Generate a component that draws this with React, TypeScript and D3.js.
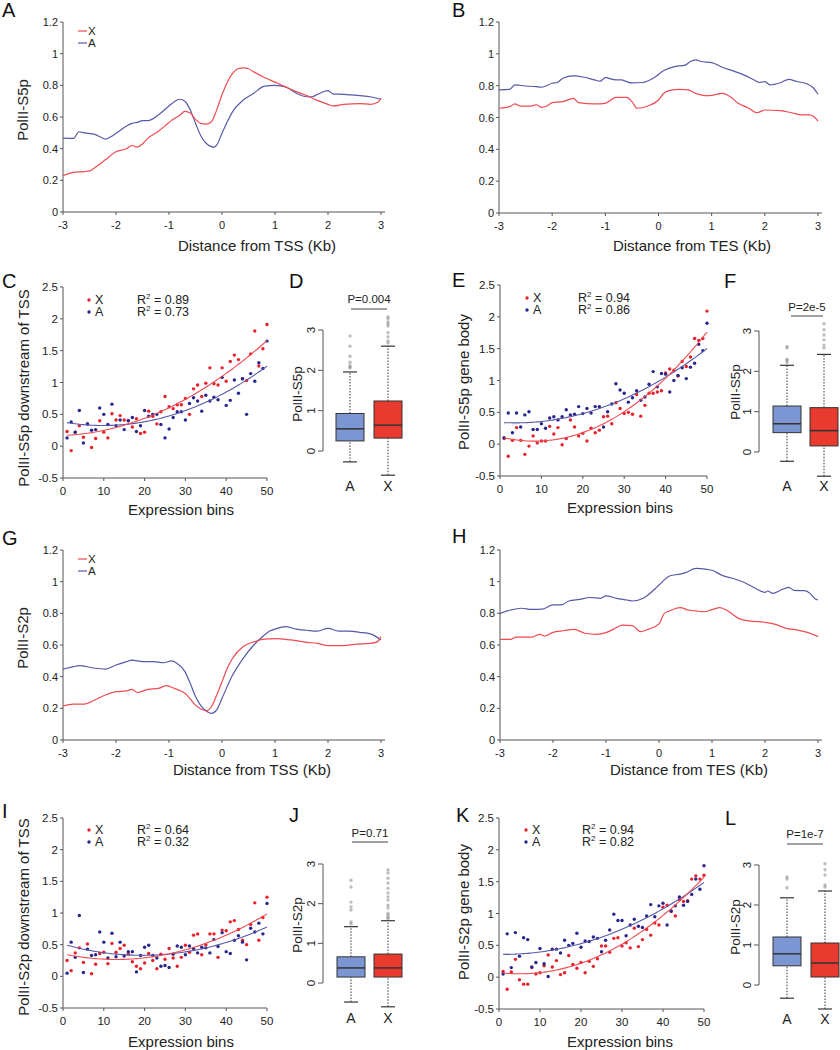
import React from 'react';
import * as d3 from 'd3';

const FONT = '"Liberation Sans", Arial, Helvetica, sans-serif';
const RED_LINE = '#ef4b52';
const BLUE_LINE = '#5858a8';
const RED_DOT = '#e8202a';
const BLUE_DOT = '#26268c';
const BOX_A = '#7b96d2';
const BOX_X = '#e83a2e';
const AXIS = '#555';
const TXT = '#222';

// ---------- tick labels ----------
const LINE_TICKS_Y = [0, 0.2, 0.4, 0.6, 0.8, 1, 1.2];
const LINE_TICKS_X = [-3, -2, -1, 0, 1, 2, 3];
const SCAT_TICKS_Y = [-0.5, 0, 0.5, 1, 1.5, 2, 2.5];
const SCAT_TICKS_X = [0, 10, 20, 30, 40, 50];
const BOX_TICKS = [0, 1, 2, 3];
const BOX_CATS = ['A', 'X'];

// ---------- Panel A (PolII-S5p around TSS) ----------
const A_X: [number, number][] = [[-3,0.23],[-2.8,0.25],[-2.6,0.255],[-2.5,0.26],[-2.4,0.28],[-2.2,0.33],[-2.0,0.38],[-1.8,0.40],[-1.7,0.42],[-1.6,0.41],[-1.5,0.43],[-1.4,0.465],[-1.2,0.51],[-1.0,0.565],[-0.9,0.59],[-0.8,0.61],[-0.7,0.635],[-0.6,0.625],[-0.5,0.585],[-0.4,0.56],[-0.3,0.555],[-0.2,0.57],[-0.1,0.645],[0,0.74],[0.1,0.82],[0.2,0.875],[0.3,0.905],[0.4,0.91],[0.5,0.905],[0.6,0.885],[0.8,0.85],[1.0,0.82],[1.2,0.79],[1.4,0.76],[1.6,0.735],[1.8,0.705],[2.0,0.68],[2.1,0.67],[2.3,0.68],[2.6,0.685],[2.8,0.68],[2.95,0.695],[3.0,0.72]];
const A_A: [number, number][] = [[-3,0.467],[-2.8,0.465],[-2.7,0.507],[-2.6,0.5],[-2.4,0.49],[-2.3,0.475],[-2.2,0.46],[-2.1,0.475],[-2.0,0.497],[-1.8,0.543],[-1.7,0.56],[-1.6,0.566],[-1.5,0.577],[-1.4,0.577],[-1.2,0.613],[-1.0,0.67],[-0.9,0.697],[-0.8,0.712],[-0.7,0.70],[-0.6,0.645],[-0.5,0.56],[-0.4,0.482],[-0.3,0.434],[-0.2,0.413],[-0.15,0.41],[-0.1,0.423],[0,0.497],[0.1,0.57],[0.2,0.634],[0.4,0.707],[0.6,0.75],[0.8,0.795],[1.0,0.8],[1.2,0.79],[1.4,0.75],[1.6,0.728],[1.7,0.728],[1.8,0.743],[2.0,0.766],[2.1,0.745],[2.3,0.743],[2.6,0.735],[2.8,0.728],[3.0,0.712]];

// ---------- Panel B (PolII-S5p around TES) ----------
const B_A: [number, number][] = [[-3,0.773],[-2.8,0.777],[-2.7,0.805],[-2.5,0.798],[-2.3,0.794],[-2.2,0.79],[-2.0,0.815],[-1.9,0.82],[-1.8,0.847],[-1.6,0.861],[-1.4,0.853],[-1.2,0.836],[-1.1,0.828],[-1.0,0.85],[-0.8,0.836],[-0.7,0.836],[-0.6,0.825],[-0.5,0.817],[-0.3,0.82],[-0.1,0.847],[0.1,0.895],[0.3,0.92],[0.5,0.929],[0.6,0.952],[0.7,0.962],[0.8,0.952],[1.0,0.945],[1.2,0.916],[1.4,0.893],[1.6,0.868],[1.8,0.836],[1.9,0.82],[2.0,0.826],[2.1,0.805],[2.3,0.82],[2.45,0.84],[2.6,0.826],[2.8,0.81],[2.9,0.79],[3.0,0.746]];
const B_X: [number, number][] = [[-3,0.658],[-2.8,0.668],[-2.7,0.685],[-2.6,0.672],[-2.4,0.672],[-2.3,0.68],[-2.2,0.664],[-2.1,0.672],[-2.0,0.693],[-1.8,0.70],[-1.6,0.72],[-1.5,0.693],[-1.2,0.685],[-1.0,0.689],[-0.8,0.727],[-0.6,0.727],[-0.5,0.70],[-0.4,0.658],[-0.2,0.672],[0,0.71],[0.1,0.752],[0.2,0.769],[0.4,0.777],[0.55,0.773],[0.7,0.752],[0.9,0.737],[1.0,0.739],[1.2,0.752],[1.35,0.731],[1.5,0.689],[1.7,0.658],[1.85,0.63],[2.0,0.647],[2.3,0.643],[2.5,0.63],[2.7,0.616],[2.85,0.616],[3.0,0.578]];

// ---------- Panel G (PolII-S2p around TSS) ----------
const G_X: [number, number][] = [[-3,0.215],[-2.8,0.227],[-2.6,0.227],[-2.4,0.253],[-2.2,0.284],[-2.0,0.305],[-1.8,0.31],[-1.7,0.32],[-1.6,0.30],[-1.4,0.32],[-1.2,0.326],[-1.05,0.343],[-0.9,0.326],[-0.7,0.295],[-0.6,0.26],[-0.5,0.22],[-0.4,0.196],[-0.3,0.185],[-0.2,0.21],[-0.1,0.284],[0,0.368],[0.1,0.453],[0.2,0.516],[0.4,0.59],[0.6,0.62],[0.8,0.637],[1.0,0.64],[1.3,0.632],[1.6,0.617],[1.8,0.61],[2.0,0.596],[2.3,0.596],[2.5,0.604],[2.8,0.61],[2.93,0.62],[3.0,0.653]];
const G_A: [number, number][] = [[-3,0.448],[-2.8,0.463],[-2.7,0.47],[-2.4,0.453],[-2.2,0.448],[-2.0,0.474],[-1.8,0.495],[-1.7,0.505],[-1.5,0.495],[-1.3,0.495],[-1.1,0.488],[-0.95,0.50],[-0.85,0.484],[-0.7,0.432],[-0.6,0.358],[-0.5,0.274],[-0.4,0.217],[-0.3,0.183],[-0.2,0.168],[-0.1,0.19],[0,0.263],[0.2,0.41],[0.4,0.516],[0.6,0.6],[0.8,0.663],[0.9,0.688],[1.0,0.70],[1.2,0.716],[1.4,0.70],[1.6,0.693],[1.8,0.688],[2.0,0.705],[2.2,0.688],[2.4,0.688],[2.6,0.68],[2.8,0.67],[3.0,0.632]];

// ---------- Panel H (PolII-S2p around TES) ----------
const H_A: [number, number][] = [[-3,0.80],[-2.8,0.821],[-2.6,0.832],[-2.4,0.825],[-2.2,0.827],[-2.0,0.853],[-1.85,0.853],[-1.7,0.878],[-1.5,0.888],[-1.3,0.90],[-1.1,0.895],[-1.0,0.91],[-0.8,0.895],[-0.6,0.884],[-0.5,0.878],[-0.3,0.895],[-0.1,0.947],[0,0.979],[0.2,1.036],[0.4,1.048],[0.5,1.057],[0.7,1.084],[0.9,1.078],[1.0,1.072],[1.2,1.038],[1.4,1.02],[1.6,0.996],[1.8,0.962],[2.0,0.933],[2.05,0.941],[2.15,0.926],[2.3,0.947],[2.45,0.964],[2.55,0.945],[2.75,0.943],[2.85,0.926],[2.95,0.89],[3.0,0.884]];
const H_X: [number, number][] = [[-3,0.636],[-2.8,0.636],[-2.7,0.65],[-2.4,0.65],[-2.25,0.667],[-2.15,0.657],[-2.0,0.68],[-1.8,0.69],[-1.6,0.699],[-1.4,0.674],[-1.2,0.667],[-1.0,0.678],[-0.8,0.71],[-0.7,0.726],[-0.5,0.722],[-0.35,0.684],[-0.2,0.70],[0,0.733],[0.1,0.80],[0.2,0.815],[0.4,0.836],[0.55,0.821],[0.7,0.815],[0.85,0.81],[1.0,0.823],[1.15,0.836],[1.3,0.815],[1.5,0.768],[1.7,0.752],[2.0,0.743],[2.2,0.73],[2.4,0.705],[2.6,0.695],[2.8,0.68],[3.0,0.653]];

// ---------- Scatter panels: bins 1..50 ----------
const BINS = Array.from({ length: 50 }, (_, i) => i + 1);
const C_X = [0.23,-0.07,0.22,0.32,0.14,0.35,-0.02,0.12,0.4,0.22,0.13,0.51,0.41,0.48,0.41,0.4,0.3,0.43,0.2,0.22,0.55,0.47,0.35,0.54,0.78,0.62,0.59,0.65,0.65,0.75,0.5,0.9,0.96,0.78,0.99,1.23,0.98,0.96,1.23,1.02,1.33,1.43,1.36,1.06,1.03,1.45,1.81,1.26,1.53,1.91];
const C_A = [0.13,0.38,0.22,0.56,0.05,0.35,0.25,0.26,0.6,0.5,0.34,0.66,0.32,0.41,0.26,0.4,0.45,0.23,0.32,0.56,0.47,0.5,0.5,0.34,0.13,0.27,0.45,0.54,0.54,0.41,0.67,0.76,0.71,0.55,0.8,0.71,0.77,0.73,1.08,0.64,0.72,1.04,0.83,1.06,0.5,1.14,1.02,1.31,1.22,1.65];
const E_X = [0.09,-0.19,0.06,0.26,0.06,-0.16,-0.03,0.13,0.02,0.05,0.05,0.28,0.16,0.26,-0.01,0.09,0.38,0.27,0.13,0.17,0.05,0.25,0.18,0.22,0.43,0.44,0.32,0.65,0.56,0.48,0.5,0.47,0.78,0.44,0.61,0.8,0.8,0.82,0.84,1.12,1.18,1.16,1.07,1.3,1.22,1.37,1.66,1.63,1.66,2.09];
const E_A = [0.1,0.49,0.18,0.49,0.27,0.46,0.51,0.23,0.23,0.32,0.25,0.41,0.43,0.38,0.43,0.54,0.46,0.47,0.59,0.48,0.56,0.49,0.59,0.59,0.27,0.51,0.63,0.95,0.85,0.8,0.66,0.73,0.84,0.69,0.74,0.94,1.14,0.9,1.11,1.1,0.82,1.0,1.08,1.2,1.03,1.21,1.27,1.57,1.47,1.9];
const I_X = [0.25,0.09,0.37,0.45,0.22,0.51,0.04,0.19,0.36,0.38,0.2,0.52,0.38,0.44,0.49,0.35,0.23,0.16,0.12,0.21,0.36,0.25,0.12,0.35,0.27,0.44,0.29,0.16,0.3,0.49,0.38,0.65,0.67,0.34,0.5,0.67,0.67,0.3,0.73,0.72,0.86,0.88,0.74,0.57,0.5,0.82,1.16,0.57,0.93,1.25];
const I_A = [0.05,0.54,0.3,0.96,0.06,0.43,0.33,0.34,0.7,0.54,0.29,0.68,0.31,0.54,0.32,0.39,0.39,0.07,0.33,0.46,0.49,0.33,0.29,0.16,0.17,0.14,0.35,0.48,0.46,0.34,0.48,0.44,0.37,0.46,0.45,0.37,0.58,0.47,0.69,0.39,0.36,0.57,0.64,0.54,0.26,0.76,0.7,0.84,0.67,1.15];
const K_X = [0.09,-0.19,0.08,0.28,-0.04,-0.11,-0.11,0.15,0.05,0.07,0.18,0.35,0.16,0.26,0.04,0.07,0.34,0.2,0.14,0.23,0.07,0.25,0.17,0.29,0.49,0.49,0.39,0.61,0.62,0.49,0.54,0.46,0.77,0.48,0.59,0.75,0.66,0.85,0.82,1.1,1.13,1.03,0.96,1.22,1.19,1.2,1.54,1.59,1.54,1.6];
const K_A = [0.05,0.68,0.15,0.7,0.33,0.62,0.59,0.16,0.23,0.45,0.21,0.01,0.44,0.44,0.38,0.58,0.5,0.53,0.69,0.47,0.57,0.56,0.63,0.61,0.4,0.58,0.74,0.99,0.89,0.89,0.65,0.82,0.91,0.8,0.78,0.96,1.14,0.95,1.12,1.16,0.82,1.04,1.12,1.26,1.13,1.19,1.3,1.54,1.38,1.75];

// ---------- Box plots: [lowWhisker, Q1, median, Q3, highWhisker] ----------
const D_A_STATS = [-0.27, 0.25, 0.55, 0.93, 1.96];
const D_X_STATS = [-0.6, 0.32, 0.64, 1.24, 2.6];
const D_A_OUT = [2.06, 2.08, 2.12, 2.2, 2.35, 2.6, 2.85];
const D_X_OUT = [2.68, 2.73, 2.83, 2.93, 3.1, 3.15, 3.2, 3.28, 3.33];
const F_A_STATS = [-0.23, 0.48, 0.7, 1.14, 2.15];
const F_X_STATS = [-0.6, 0.15, 0.53, 1.1, 2.42];
const F_A_OUT = [2.22, 2.27, 2.3, 2.58, 2.62];
const F_X_OUT = [2.58, 2.65, 2.78, 2.9, 3.03, 3.18];
const J_A_STATS = [-0.48, 0.15, 0.38, 0.66, 1.42];
const J_X_STATS = [-0.6, 0.15, 0.38, 0.73, 1.57];
const J_A_OUT = [1.49, 1.54, 1.84, 1.92, 2.04, 2.42, 2.59];
const J_X_OUT = [1.62, 1.66, 1.71, 1.76, 1.89, 1.96, 2.09, 2.17, 2.27, 2.39, 2.52, 2.64, 2.77, 2.85];
const L_A_STATS = [-0.33, 0.48, 0.78, 1.2, 2.18];
const L_X_STATS = [-0.6, 0.2, 0.55, 1.05, 2.35];
const L_A_OUT = [2.43, 2.65, 2.7];
const L_X_OUT = [2.45, 2.5, 2.75, 2.88, 3.03];

// ---------- helpers ----------
function quadFit(xs: number[], ys: number[]) {
  const s = [0, 0, 0, 0, 0];
  const t = [0, 0, 0];
  for (let i = 0; i < xs.length; i++) {
    const x = xs[i], y = ys[i];
    let p = 1;
    for (let k = 0; k < 5; k++) { s[k] += p; if (k < 3) t[k] += p * y; p *= x; }
  }
  const M = [[s[0], s[1], s[2], t[0]], [s[1], s[2], s[3], t[1]], [s[2], s[3], s[4], t[2]]];
  for (let c = 0; c < 3; c++) {
    for (let r = c + 1; r < 3; r++) {
      const f = M[r][c] / M[c][c];
      for (let k = c; k < 4; k++) M[r][k] -= f * M[c][k];
    }
  }
  const b = [0, 0, 0];
  for (let r = 2; r >= 0; r--) {
    let v = M[r][3];
    for (let k = r + 1; k < 3; k++) v -= M[r][k] * b[k];
    b[r] = v / M[r][r];
  }
  return (x: number) => b[0] + b[1] * x + b[2] * x * x;
}

const fmt = (v: number) => String(v);

function Letter({ x, y, t }: { x: number; y: number; t: string }) {
  return <text x={x} y={y} fontSize={20} fontFamily={FONT} fill="#111">{t}</text>;
}

type LP = {
  letter: string; lx: number; ly: number;
  x0: number; x1: number; y0: number; y1: number;
  red: [number, number][]; blue: [number, number][];
  ylabel?: string; ylx?: number; yly?: number;
  xlabel: string; xlx: number; xly: number;
  legend?: boolean;
};

function LinePanel(p: LP) {
  const x = d3.scaleLinear().domain([-3, 3]).range([p.x0, p.x1]);
  const y = d3.scaleLinear().domain([0, 1.2]).range([p.y0, p.y1]);
  const line = d3.line<[number, number]>().x(d => x(d[0])).y(d => y(d[1])).curve(d3.curveMonotoneX);
  return (
    <g fontFamily={FONT}>
      <Letter x={p.lx} y={p.ly} t={p.letter} />
      <line x1={p.x0} x2={p.x0} y1={y(0)} y2={y(1.2)} stroke={AXIS} />
      <line x1={p.x0} x2={p.x1 + 4} y1={p.y0} y2={p.y0} stroke={AXIS} />
      {LINE_TICKS_Y.map(t => (
        <g key={'y' + t}>
          <line x1={p.x0 - 3} x2={p.x0} y1={y(t)} y2={y(t)} stroke={AXIS} />
          <text x={p.x0 - 5} y={y(t) + 4} textAnchor="end" fontSize={11} fill={TXT}>{fmt(t)}</text>
        </g>
      ))}
      {LINE_TICKS_X.map(t => (
        <g key={'x' + t}>
          <line x1={x(t)} x2={x(t)} y1={p.y0} y2={p.y0 + 3} stroke={AXIS} />
          <text x={x(t)} y={p.y0 + 17} textAnchor="middle" fontSize={11} fill={TXT}>{fmt(t)}</text>
        </g>
      ))}
      <path d={line(p.blue) || ''} fill="none" stroke={BLUE_LINE} strokeWidth={1.2} />
      <path d={line(p.red) || ''} fill="none" stroke={RED_LINE} strokeWidth={1.2} />
      {p.legend && (
        <g fontSize={11.5} fill={TXT}>
          <line x1={p.x0 + 15} x2={p.x0 + 24} y1={p.y1 + 9} y2={p.y1 + 9} stroke={RED_LINE} strokeWidth={1.2} />
          <text x={p.x0 + 25} y={p.y1 + 13}>X</text>
          <line x1={p.x0 + 15} x2={p.x0 + 24} y1={p.y1 + 21} y2={p.y1 + 21} stroke={BLUE_LINE} strokeWidth={1.2} />
          <text x={p.x0 + 25} y={p.y1 + 25}>A</text>
        </g>
      )}
      {p.ylabel && (
        <text transform={`translate(${p.ylx},${p.yly}) rotate(-90)`} textAnchor="middle" fontSize={15} fill={TXT}>{p.ylabel}</text>
      )}
      <text x={p.xlx} y={p.xly} textAnchor="middle" fontSize={15} fill={TXT}>{p.xlabel}</text>
    </g>
  );
}

type SP = {
  letter: string; lx: number; ly: number;
  x0: number; x1: number; yTop: number; yBot: number;
  red: number[]; blue: number[];
  ylabel: string; ylx: number; yly: number;
  xlx: number; xly: number;
  legX: number; r2x: number; legY: number; r2: [string, string];
};

function ScatterPanel(p: SP) {
  const x = d3.scaleLinear().domain([0, 50]).range([p.x0, p.x1]);
  const y = d3.scaleLinear().domain([-0.5, 2.5]).range([p.yBot, p.yTop]);
  const fr = quadFit(BINS, p.red);
  const fb = quadFit(BINS, p.blue);
  const xs = d3.range(1, 50.001, 0.5);
  const fl = (f: (v: number) => number) => d3.line<number>().x(d => x(d)).y(d => y(f(d)))(xs) || '';
  return (
    <g fontFamily={FONT}>
      <Letter x={p.lx} y={p.ly} t={p.letter} />
      <line x1={p.x0} x2={p.x0} y1={p.yBot} y2={p.yTop} stroke={AXIS} />
      <line x1={p.x0} x2={p.x1} y1={p.yBot} y2={p.yBot} stroke={AXIS} />
      {SCAT_TICKS_Y.map(t => (
        <g key={'y' + t}>
          <line x1={p.x0 - 3} x2={p.x0} y1={y(t)} y2={y(t)} stroke={AXIS} />
          <text x={p.x0 - 5} y={y(t) + 4} textAnchor="end" fontSize={11.5} fill={TXT}>{fmt(t)}</text>
        </g>
      ))}
      {SCAT_TICKS_X.map(t => (
        <g key={'x' + t}>
          <line x1={x(t)} x2={x(t)} y1={p.yBot} y2={p.yBot + 3} stroke={AXIS} />
          <text x={x(t)} y={p.yBot + 17} textAnchor="middle" fontSize={11.5} fill={TXT}>{fmt(t)}</text>
        </g>
      ))}
      {BINS.map((b, i) => (
        <circle key={'r' + b} cx={x(b)} cy={y(p.red[i])} r={1.7} fill={RED_DOT} />
      ))}
      {BINS.map((b, i) => (
        <circle key={'b' + b} cx={x(b)} cy={y(p.blue[i])} r={1.7} fill={BLUE_DOT} />
      ))}
      <path d={fl(fb)} fill="none" stroke={BLUE_LINE} strokeWidth={1.1} />
      <path d={fl(fr)} fill="none" stroke={RED_LINE} strokeWidth={1.1} />
      <g fontSize={12.5} fill={TXT}>
        <circle cx={p.legX} cy={p.legY - 4} r={1.7} fill={RED_DOT} />
        <text x={p.legX + 6} y={p.legY}>X</text>
        <circle cx={p.legX} cy={p.legY + 8} r={1.7} fill={BLUE_DOT} />
        <text x={p.legX + 6} y={p.legY + 12}>A</text>
        <text x={p.r2x} y={p.legY}>R<tspan dy={-5} fontSize={8}>2</tspan><tspan dy={5}> = {p.r2[0]}</tspan></text>
        <text x={p.r2x} y={p.legY + 12}>R<tspan dy={-5} fontSize={8}>2</tspan><tspan dy={5}> = {p.r2[1]}</tspan></text>
      </g>
      <text transform={`translate(${p.ylx},${p.yly}) rotate(-90)`} textAnchor="middle" fontSize={15} fill={TXT}>{p.ylabel}</text>
      <text x={p.xlx} y={p.xly} textAnchor="middle" fontSize={15} fill={TXT}>Expression bins</text>
    </g>
  );
}

type BP = {
  letter: string; lx: number; ly: number;
  ax: number; y0: number; y3: number;
  cA: number; cX: number; w: number;
  sA: number[]; sX: number[]; oA: number[]; oX: number[];
  ylabel: string; ylx: number; yly: number;
  pText: string; pY: number; lineY: number; lineX0: number; lineX1: number;
  catY: number;
};

function BoxPanel(p: BP) {
  const y = d3.scaleLinear().domain([0, 3]).range([p.y0, p.y3]);
  const box = (c: number, s: number[], o: number[], fill: string, key: string) => (
    <g key={key}>
      <line x1={c} x2={c} y1={y(s[0])} y2={y(s[1])} stroke="#333" strokeDasharray="1.5,1.5" />
      <line x1={c} x2={c} y1={y(s[3])} y2={y(s[4])} stroke="#333" strokeDasharray="1.5,1.5" />
      <line x1={c - p.w / 4} x2={c + p.w / 4} y1={y(s[0])} y2={y(s[0])} stroke="#333" strokeWidth={1.2} />
      <line x1={c - p.w / 4} x2={c + p.w / 4} y1={y(s[4])} y2={y(s[4])} stroke="#333" strokeWidth={1.2} />
      <rect x={c - p.w / 2} y={y(s[3])} width={p.w} height={y(s[1]) - y(s[3])} fill={fill} stroke="#333" strokeWidth={1} />
      <line x1={c - p.w / 2} x2={c + p.w / 2} y1={y(s[2])} y2={y(s[2])} stroke="#333" strokeWidth={1.5} />
      {o.map((v, i) => (
        <circle key={i} cx={c} cy={y(v)} r={1.7} fill="#888" fillOpacity={0.55} />
      ))}
    </g>
  );
  return (
    <g fontFamily={FONT}>
      <Letter x={p.lx} y={p.ly} t={p.letter} />
      <line x1={p.ax} x2={p.ax} y1={y(0)} y2={y(3)} stroke={AXIS} />
      {BOX_TICKS.map(t => (
        <g key={t}>
          <line x1={p.ax - 5} x2={p.ax} y1={y(t)} y2={y(t)} stroke={AXIS} />
          <text transform={`translate(${p.ax - 8},${y(t)}) rotate(-90)`} textAnchor="middle" fontSize={11.5} fill={TXT}>{fmt(t)}</text>
        </g>
      ))}
      {box(p.cA, p.sA, p.oA, BOX_A, 'a')}
      {box(p.cX, p.sX, p.oX, BOX_X, 'x')}
      <text x={(p.lineX0 + p.lineX1) / 2} y={p.pY} textAnchor="middle" fontSize={11.5} fill={TXT}>{p.pText}</text>
      <line x1={p.lineX0} x2={p.lineX1} y1={p.lineY} y2={p.lineY} stroke="#444" />
      {BOX_CATS.map((c, i) => (
        <text key={c} x={i === 0 ? p.cA : p.cX} y={p.catY} textAnchor="middle" fontSize={14} fill={TXT}>{c}</text>
      ))}
      <text transform={`translate(${p.ylx},${p.yly}) rotate(-90)`} textAnchor="middle" fontSize={13.5} fill={TXT}>{p.ylabel}</text>
    </g>
  );
}

export default function App() {
  return (
    <svg width={840} height={1050} style={{ position: 'absolute', left: 0, top: 0, background: '#fff' }}>
      <rect width={840} height={1050} fill="#fff" />
      <LinePanel letter="A" lx={2} ly={17} x0={63} x1={381} y0={212} y1={22} red={A_X} blue={A_A}
        ylabel="PolII-S5p" ylx={28} yly={110} xlabel="Distance from TSS (Kb)" xlx={257} xly={251} legend />
      <LinePanel letter="B" lx={452} ly={17} x0={499} x1={818} y0={213} y1={22} red={B_X} blue={B_A}
        xlabel="Distance from TES (Kb)" xlx={692} xly={251} />
      <ScatterPanel letter="C" lx={2} ly={288} x0={63} x1={267} yTop={287} yBot={478} red={C_X} blue={C_A}
        ylabel="PolII-S5p downstream of TSS" ylx={29} yly={388} xlx={181} xly={515}
        legX={89} r2x={137} legY={304} r2={['0.89', '0.73']} />
      <BoxPanel letter="D" lx={289} ly={288} ax={323} y0={451} y3={330} cA={350} cX={388} w={28}
        sA={D_A_STATS} sX={D_X_STATS} oA={D_A_OUT} oX={D_X_OUT}
        ylabel="PolII-S5p" ylx={302} yly={394} pText="P=0.004" pY={303} lineY={309} lineX0={351} lineX1={387} catY={491} />
      <ScatterPanel letter="E" lx={452} ly={287} x0={500} x1={707} yTop={285} yBot={476} red={E_X} blue={E_A}
        ylabel="PolII-S5p gene body" ylx={469} yly={382} xlx={620} xly={513}
        legX={527} r2x={578} legY={302} r2={['0.94', '0.86']} />
      <BoxPanel letter="F" lx={724} ly={288} ax={759} y0={452} y3={331} cA={787} cX={824} w={28}
        sA={F_A_STATS} sX={F_X_STATS} oA={F_A_OUT} oX={F_X_OUT}
        ylabel="PolII-S5p" ylx={740} yly={392} pText="P=2e-5" pY={311} lineY={316} lineX0={791} lineX1={823} catY={491} />
      <LinePanel letter="G" lx={2} ly={545} x0={63} x1={381} y0={740} y1={550} red={G_X} blue={G_A}
        ylabel="PolII-S2p" ylx={28} yly={638} xlabel="Distance from TSS (Kb)" xlx={252} xly={775} legend />
      <LinePanel letter="H" lx={452} ly={543} x0={500} x1={818} y0={740} y1={550} red={H_X} blue={H_A}
        xlabel="Distance from TES (Kb)" xlx={689} xly={775} />
      <ScatterPanel letter="I" lx={2} ly={818} x0={63} x1={267} yTop={818} yBot={1008} red={I_X} blue={I_A}
        ylabel="PolII-S2p downstream of TSS" ylx={29} yly={917} xlx={181} xly={1047}
        legX={89} r2x={137} legY={834} r2={['0.64', '0.32']} />
      <BoxPanel letter="J" lx={289} ly={822} ax={323} y0={983} y3={864} cA={351} cX={388} w={28}
        sA={J_A_STATS} sX={J_X_STATS} oA={J_A_OUT} oX={J_X_OUT}
        ylabel="PolII-S2p" ylx={302} yly={925} pText="P=0.71" pY={837} lineY={842} lineX0={352} lineX1={388} catY={1023} />
      <ScatterPanel letter="K" lx={456} ly={822} x0={499} x1={704} yTop={818} yBot={1009} red={K_X} blue={K_A}
        ylabel="PolII-S2p gene body" ylx={469} yly={912} xlx={620} xly={1047}
        legX={526} r2x={582} legY={834} r2={['0.94', '0.82']} />
      <BoxPanel letter="L" lx={725} ly={825} ax={759} y0={985} y3={865} cA={787} cX={825} w={28}
        sA={L_A_STATS} sX={L_X_STATS} oA={L_A_OUT} oX={L_X_OUT}
        ylabel="PolII-S2p" ylx={740} yly={927} pText="P=1e-7" pY={838} lineY={844} lineX0={787} lineX1={823} catY={1024} />
    </svg>
  );
}
